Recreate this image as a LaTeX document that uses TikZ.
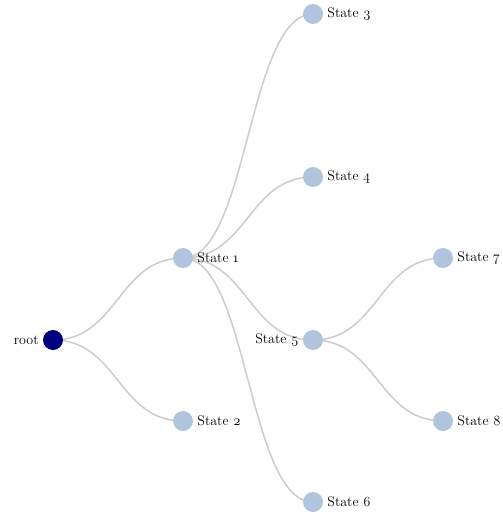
\documentclass[tikz,border=0pt]{standalone}
\usepackage{fontspec}
\setmainfont{Latin Modern Roman}
\begin{document}
\begin{tikzpicture}[x=1pt,y=-1pt,
  font=\fontsize{14}{16}\selectfont,
  link/.style={draw={rgb,255:red,204;green,204;blue,204},line width=1.5pt},
  leaf/.style={circle,fill={rgb,255:red,176;green,196;blue,222},minimum size=20pt,inner sep=0pt},
  rootnode/.style={circle,fill={rgb,255:red,0;green,0;blue,128},minimum size=20pt,inner sep=0pt},
  rlab/.style={anchor=west,inner sep=0pt,xshift=4pt},
  llab/.style={anchor=east,inner sep=0pt,xshift=-4pt}]
\useasboundingbox (0,0) rectangle (503,514);
\coordinate (c0) at (53,340);
\coordinate (c1) at (183,258);
\coordinate (c2) at (183,421);
\coordinate (c3) at (313,14);
\coordinate (c4) at (313,177);
\coordinate (c5) at (313,340);
\coordinate (c6) at (313,502);
\coordinate (c7) at (443,258);
\coordinate (c8) at (443,421);
\draw[link] (c0) .. controls (118,340) and (118,258) .. (c1);
\draw[link] (c0) .. controls (118,340) and (118,421) .. (c2);
\draw[link] (c1) .. controls (248,258) and (248,14) .. (c3);
\draw[link] (c1) .. controls (248,258) and (248,177) .. (c4);
\draw[link] (c1) .. controls (248,258) and (248,340) .. (c5);
\draw[link] (c1) .. controls (248,258) and (248,502) .. (c6);
\draw[link] (c5) .. controls (378,340) and (378,258) .. (c7);
\draw[link] (c5) .. controls (378,340) and (378,421) .. (c8);
\node[rootnode] (n0) at (c0) {};
\node[leaf] (n1) at (c1) {};
\node[leaf] (n2) at (c2) {};
\node[leaf] (n3) at (c3) {};
\node[leaf] (n4) at (c4) {};
\node[leaf] (n5) at (c5) {};
\node[leaf] (n6) at (c6) {};
\node[leaf] (n7) at (c7) {};
\node[leaf] (n8) at (c8) {};
\node[llab] (t0) at (n0.west) {root};
\node[rlab] (t1) at (n1.east) {State \oldstylenums{1}};
\node[rlab] (t2) at (n2.east) {State \oldstylenums{2}};
\node[rlab] (t3) at (n3.east) {State \oldstylenums{3}};
\node[rlab] (t4) at (n4.east) {State \oldstylenums{4}};
\node[llab] (t5) at (n5.west) {State \oldstylenums{5}};
\node[rlab] (t6) at (n6.east) {State \oldstylenums{6}};
\node[rlab] (t7) at (n7.east) {State \oldstylenums{7}};
\node[rlab] (t8) at (n8.east) {State \oldstylenums{8}};
\end{tikzpicture}
\end{document}
